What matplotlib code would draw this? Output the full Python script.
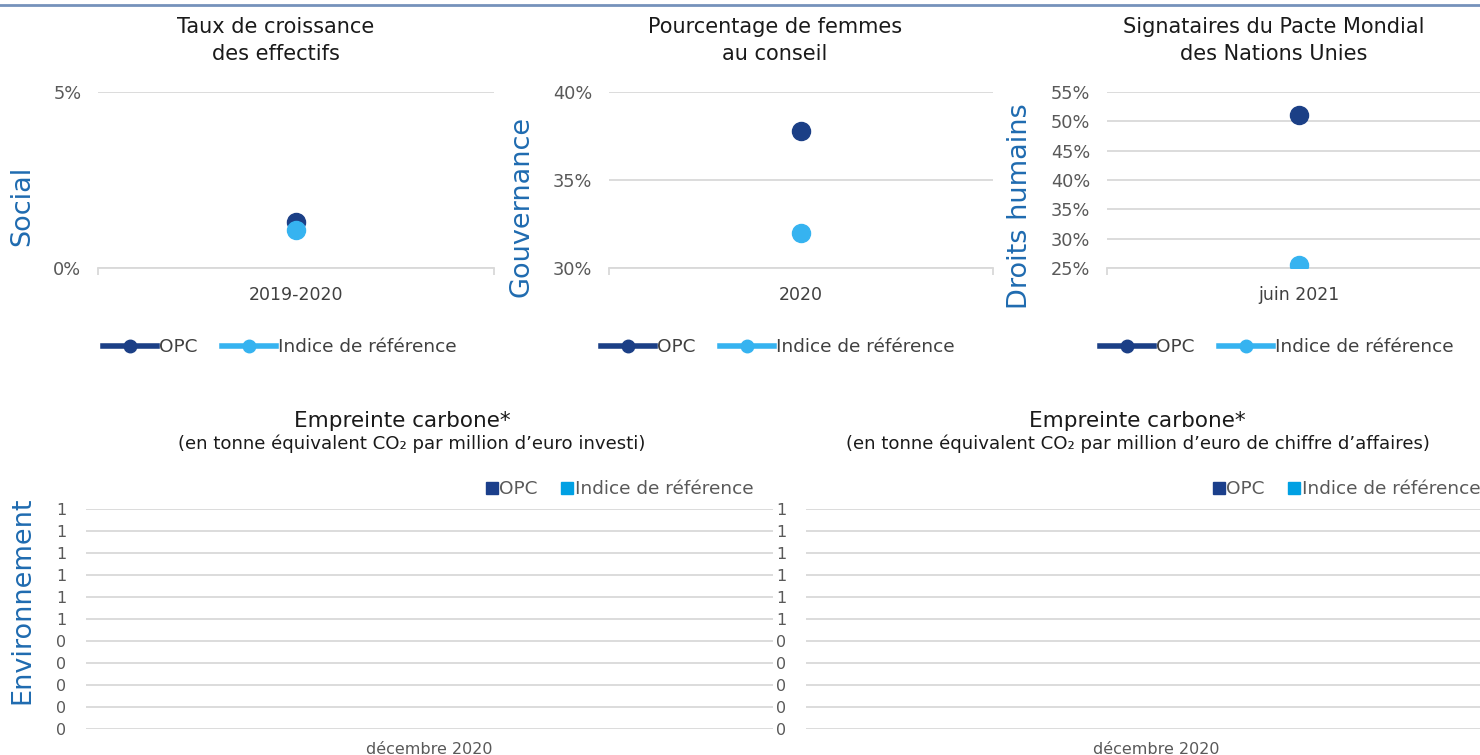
import matplotlib.pyplot as plt
from matplotlib.lines import Line2D
from matplotlib.ticker import FuncFormatter
import numpy as np

# --- data ---
social_cat = ['2019-2020']
social_opc = [0.0131]
social_ref = [0.0108]

gouv_cat = ['2020']
gouv_opc = [0.378]
gouv_ref = [0.320]

dh_cat = ['juin 2021']
dh_opc = [0.511]
dh_ref = [0.255]

carbon_cat = ['décembre 2020']
carbon_inv_opc = [0.0]
carbon_inv_ref = [0.0]
carbon_ca_opc = [0.0]
carbon_ca_ref = [0.0]

W, H = 1480, 755
OPC_COL = '#1b3f86'
REF_COL = '#36b3f0'
OPC_BAR = '#1b3f8b'
REF_BAR = '#00a0e3'
SECTION_COL = '#1f6bb0'
GRID = '#d9d9d9'
TICK_COL = '#595959'

plt.rcParams['font.family'] = ['DejaVu Sans']

fig = plt.figure(figsize=(W / 100, H / 100), dpi=100)


def rect(x0, y0, x1, y1):
    return [x0 / W, 1 - y1 / H, (x1 - x0) / W, (y1 - y0) / H]


def fx(x):
    return x / W


def fy(y):
    return 1 - y / H


# separator line at the very top
fig.add_artist(Line2D([0, 1], [fy(5), fy(5)], color='#7592bb', lw=2))


def dot_panel(box, cats, opc, ref, ylim, yticks, title, section, sec_x, title_x, leg_x):
    ax = fig.add_axes(rect(*box))
    x = np.arange(len(cats))
    ax.plot(x, opc, 'o', color=OPC_COL, markersize=13, zorder=3)
    ax.plot(x, ref, 'o', color=REF_COL, markersize=13, zorder=3)
    ax.set_xlim(-0.5, len(cats) - 0.5)
    ax.set_ylim(*ylim)
    ax.set_yticks(yticks)
    ax.yaxis.set_major_formatter(FuncFormatter(lambda v, p: f'{v * 100:.0f}%'))
    ax.set_xticks(x)
    ax.set_xticklabels(cats)
    ax.set_xticks([-0.5, len(cats) - 0.5], minor=True)
    ax.tick_params(axis='x', which='major', length=0, pad=13, labelsize=12.5, labelcolor='#404040')
    ax.tick_params(axis='x', which='minor', length=5, color=GRID, width=1.3)
    ax.tick_params(axis='y', length=0, pad=12, labelsize=12.8, labelcolor=TICK_COL)
    ax.grid(axis='y', color=GRID, lw=1.3)
    ax.set_axisbelow(True)
    for s in ['top', 'right', 'left']:
        ax.spines[s].set_visible(False)
    ax.spines['bottom'].set_color(GRID)
    ax.spines['bottom'].set_linewidth(1.3)
    fig.text(fx(title_x), fy(40.5), title, ha='center', va='center', fontsize=15,
             color='#1a1a1a', linespacing=1.45)
    fig.text(fx(sec_x), fy(206), section, ha='center', va='center', rotation=90,
             fontsize=19.5, color=SECTION_COL)
    handles = [
        Line2D([0], [0], color=OPC_COL, lw=4, marker='o', markersize=9, label='OPC'),
        Line2D([0], [0], color=REF_COL, lw=4, marker='o', markersize=9, label='Indice de référence'),
    ]
    fig.legend(handles=handles, loc='center', bbox_to_anchor=(fx(leg_x), fy(347)), ncol=2,
               frameon=False, fontsize=13.3, handlelength=2.9, handletextpad=0.15,
               columnspacing=1.3, labelcolor='#404040')
    return ax


dot_panel((98, 92, 494, 268), social_cat, social_opc, social_ref, (0, 0.05), [0, 0.05],
          'Taux de croissance\ndes effectifs', 'Social', 22, 276, 280)
dot_panel((609, 92, 993, 268), gouv_cat, gouv_opc, gouv_ref, (0.30, 0.40), [0.30, 0.35, 0.40],
          'Pourcentage de femmes\nau conseil', 'Gouvernance', 522, 775, 778)
dot_panel((1107, 92, 1491, 268), dh_cat, dh_opc, dh_ref, (0.25, 0.55),
          [0.25, 0.30, 0.35, 0.40, 0.45, 0.50, 0.55],
          'Signataires du Pacte Mondial\ndes Nations Unies', 'Droits humains', 1020, 1274, 1277)


def bar_panel(box, cats, opc, ref, subtitle, title_x, sub_x, leg_x):
    ax = fig.add_axes(rect(*box))
    x = np.arange(len(cats))
    ax.bar(x - 0.15, opc, width=0.3, color=OPC_BAR)
    ax.bar(x + 0.15, ref, width=0.3, color=REF_BAR)
    ax.set_xlim(-0.5, len(cats) - 0.5)
    ax.set_ylim(0, 1)
    ax.set_yticks(np.linspace(0, 1, 11))
    ax.yaxis.set_major_formatter(FuncFormatter(lambda v, p: str(int(v + 0.5 + 1e-9))))
    ax.set_xticks(x)
    ax.set_xticklabels(cats)
    ax.tick_params(axis='x', length=0, pad=9, labelsize=11.5, labelcolor=TICK_COL)
    ax.tick_params(axis='y', length=0, pad=14, labelsize=11.5, labelcolor=TICK_COL)
    ax.grid(axis='y', color=GRID, lw=1.3)
    ax.set_axisbelow(True)
    for s in ax.spines.values():
        s.set_visible(False)
    fig.text(fx(title_x), fy(421), 'Empreinte carbone*', ha='center', va='center',
             fontsize=15.5, color='#1a1a1a')
    fig.text(fx(sub_x), fy(444), subtitle, ha='center', va='center',
             fontsize=13.1, color='#1a1a1a')
    handles = [
        Line2D([0], [0], color=OPC_BAR, marker='s', ls='none', markersize=8, label='OPC'),
        Line2D([0], [0], color=REF_BAR, marker='s', ls='none', markersize=8, label='Indice de référence'),
    ]
    fig.legend(handles=handles, loc='center', bbox_to_anchor=(fx(leg_x), fy(489)), ncol=2,
               frameon=False, fontsize=13.3, handlelength=0.6, handletextpad=0.1,
               columnspacing=1.3, labelcolor=TICK_COL)
    return ax


bar_panel((86, 509, 773, 729), carbon_cat, carbon_inv_opc, carbon_inv_ref,
          '(en tonne équivalent CO₂ par million d’euro investi)', 402, 412, 620)
bar_panel((806, 509, 1506, 729), carbon_cat, carbon_ca_opc, carbon_ca_ref,
          '(en tonne équivalent CO₂ par million d’euro de chiffre d’affaires)', 1137, 1138, 1347)

fig.text(fx(22), fy(600), 'Environnement', ha='center', va='center', rotation=90,
         fontsize=19.5, color=SECTION_COL)

fig.savefig('out.png', dpi=100)
